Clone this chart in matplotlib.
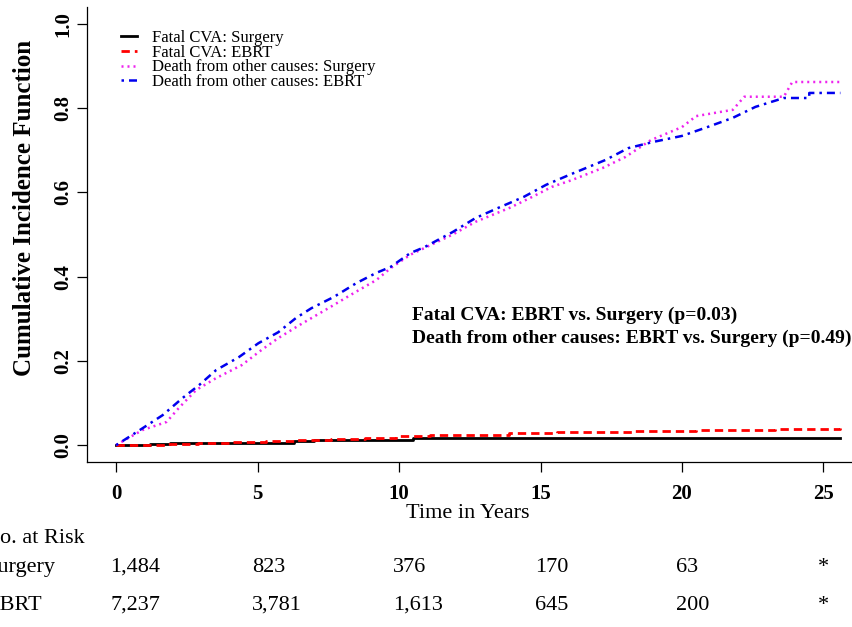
import matplotlib
matplotlib.use("Agg")
import matplotlib.pyplot as plt
import matplotlib.transforms as mtransforms

plt.rcParams['font.family'] = ['Liberation Serif', 'DejaVu Serif']

# cumulative incidence curves (years, CIF)
cva_surg_t = [0, 1.2, 1.9, 5.4, 6.3, 7.0, 10.5, 25.6]
cva_surg_v = [0, 0.002, 0.004, 0.006, 0.009, 0.012, 0.017, 0.017]

cva_ebrt_t = [0, 1.0, 1.8, 2.9, 4.1, 5.3, 6.4, 7.6, 8.8, 9.9, 10.5, 11.1, 12.6,
              13.9, 15.6, 18.3, 20.5, 23.3, 25.6]
cva_ebrt_v = [0, 0.001, 0.003, 0.005, 0.007, 0.010, 0.012, 0.014, 0.017, 0.021,
              0.022, 0.024, 0.025, 0.028, 0.031, 0.034, 0.035, 0.038, 0.040]

oth_surg_t = [0, 0.3, 0.94, 1.78, 2.24, 2.83, 3.53, 4.44, 5.14, 5.73, 6.43, 7.5,
              8.4, 9.2, 9.7, 10.4, 10.9, 11.9, 12.7, 13.9, 14.7, 15.4, 16.1,
              17.2, 18.0, 18.9, 20.0, 20.5, 21.8, 22.2, 23.6, 23.9, 25.6]
oth_surg_v = [0, 0.012, 0.036, 0.055, 0.09, 0.131, 0.159, 0.19, 0.226, 0.254,
              0.283, 0.325, 0.361, 0.392, 0.42, 0.452, 0.468, 0.5, 0.53, 0.563,
              0.589, 0.613, 0.629, 0.658, 0.684, 0.724, 0.755, 0.781, 0.796,
              0.827, 0.827, 0.862, 0.862]

oth_ebrt_t = [0, 0.84, 1.64, 2.35, 2.94, 3.53, 4.34, 5.03, 5.73, 6.36, 6.9, 7.7,
              8.5, 9.2, 9.7, 10.4, 10.9, 11.9, 12.7, 13.5, 14.4, 15.2, 16.0,
              17.3, 18.1, 19.0, 20.0, 20.9, 21.8, 22.6, 23.6, 24.5, 24.5, 25.6]
oth_ebrt_v = [0, 0.036, 0.071, 0.112, 0.143, 0.178, 0.209, 0.242, 0.268, 0.302,
              0.325, 0.352, 0.385, 0.409, 0.423, 0.456, 0.47, 0.506, 0.539,
              0.563, 0.589, 0.618, 0.641, 0.677, 0.705, 0.72, 0.734, 0.755,
              0.777, 0.803, 0.824, 0.824, 0.836, 0.836]

# number at risk table
risk_times = [0, 5, 10, 15, 20, 25]
risk_surgery = ['1,484', '823', '376', '170', '63', '*']
risk_ebrt = ['7,237', '3,781', '1,613', '645', '200', '*']

W, H = 852, 627
fig = plt.figure(figsize=(W / 100, H / 100), dpi=100)
ax = fig.add_axes([87 / W, (H - 462) / H, 793 / W, 455 / H])

ax.step(cva_surg_t, cva_surg_v, where='post', color='black', lw=2.0,
        label='Fatal CVA: Surgery')
ax.step(cva_ebrt_t, cva_ebrt_v, where='post', color='red', lw=2.0,
        linestyle=(0, (3.0, 1.8)), label='Fatal CVA: EBRT')
ax.plot(oth_surg_t, oth_surg_v, color='#ee22ee', lw=1.8,
        linestyle=(0, (0.8, 1.6)), label='Death from other causes: Surgery')
ax.plot(oth_ebrt_t, oth_ebrt_v, color='#0000ee', lw=1.8,
        linestyle=(0, (1.0, 2.0, 3.2, 2.0)), label='Death from other causes: EBRT')

ax.set_xlim(-1.03, 27.0)
ax.set_ylim(-0.04, 1.04)
ax.spines['top'].set_visible(False)
ax.spines['right'].set_visible(False)
for s in ['left', 'bottom']:
    ax.spines[s].set_linewidth(0.9)

ax.set_xticks(risk_times)
ax.set_xticklabels([str(t) for t in risk_times], fontsize=15, fontweight='bold')
ax.set_yticks([0.0, 0.2, 0.4, 0.6, 0.8, 1.0])
ax.set_yticklabels(['0.0', '0.2', '0.4', '0.6', '0.8', '1.0'], fontsize=15,
                   fontweight='bold', rotation=90, va='center')
ax.tick_params(axis='x', length=7, width=0.9, pad=9)
ax.tick_params(axis='y', length=7, width=0.9, pad=3)

fig.text(25 / W, (H - 208) / H, 'Cumulative Incidence Function', rotation=90,
         ha='center', va='center', fontsize=18, fontweight='bold')
fig.text(468 / W, (H - 518) / H, 'Time in Years', ha='center', va='baseline',
         fontsize=16)

leg = ax.legend(loc='upper left', bbox_to_anchor=(121 / W, (H - 30) / H),
                bbox_transform=fig.transFigure, frameon=False, fontsize=12,
                borderpad=0, borderaxespad=0, labelspacing=-0.08,
                handlelength=0.95, handletextpad=0.9)

ax.text(10.46, 0.297, 'Fatal CVA: EBRT vs. Surgery (p=0.03)', fontsize=14,
        fontweight='bold', va='baseline')
ax.text(10.46, 0.242, 'Death from other causes: EBRT vs. Surgery (p=0.49)',
        fontsize=14, fontweight='bold', va='baseline')

# risk table under the axis (left edge cut off as in the source figure)
trans = mtransforms.blended_transform_factory(ax.transData, fig.transFigure)
fig.text(-16 / W, (H - 543) / H, 'No. at Risk', fontsize=16, va='baseline')
fig.text(-14 / W, (H - 572) / H, 'Surgery', fontsize=16, va='baseline')
fig.text(-14 / W, (H - 610) / H, 'EBRT', fontsize=16, va='baseline')
for t, s, e in zip(risk_times, risk_surgery, risk_ebrt):
    fig.text(t - 0.2, (H - 572) / H, s, transform=trans, fontsize=16,
             va='baseline', ha='left')
    fig.text(t - 0.2, (H - 610) / H, e, transform=trans, fontsize=16,
             va='baseline', ha='left')

fig.savefig('out.png', dpi=100)
